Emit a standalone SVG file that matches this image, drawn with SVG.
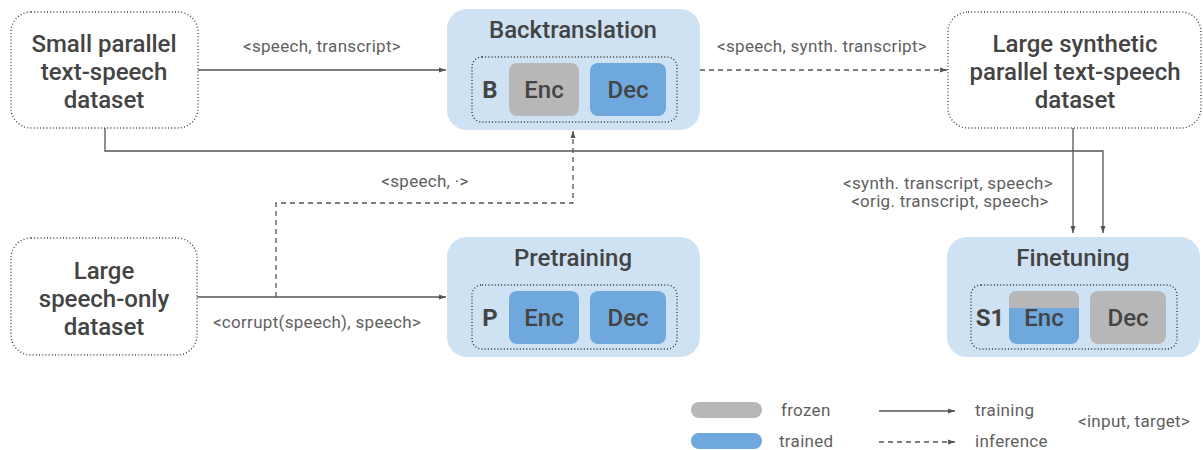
<svg xmlns="http://www.w3.org/2000/svg" width="1203" height="450" viewBox="0 0 1203 450">
<style>
.ds{fill:#fff;stroke:#444;stroke-width:1.4;stroke-dasharray:1 2.2}
.ct{fill:#cfe2f3}
.in{fill:none;stroke:#333;stroke-width:1.4;stroke-dasharray:1 2.2}
.fr{fill:#b7b7b7}
.tr{fill:#6fa8dc}
.big{font-family:Roboto,"Liberation Sans",sans-serif;font-size:24px;font-weight:500;fill:#444;text-anchor:middle}
.bold{font-family:Roboto,"Liberation Sans",sans-serif;font-size:24px;font-weight:bold;fill:#444;text-anchor:middle}
.lbl{font-family:Roboto,"Liberation Sans",sans-serif;font-size:17px;letter-spacing:0.3px;fill:#5f5f5f;text-anchor:middle}
.leg{font-family:Roboto,"Liberation Sans",sans-serif;font-size:17px;letter-spacing:0.3px;fill:#5f5f5f}
.ln{fill:none;stroke:#555;stroke-width:1.3}
.dash{stroke-dasharray:5 4}
</style>
<defs>
<marker id="ah" markerWidth="8" markerHeight="8" refX="7" refY="4" orient="auto" markerUnits="userSpaceOnUse">
<path d="M0,1.5 L7,4 L0,6.5 Z" fill="#555"/>
</marker>
</defs>

<g id="small-parallel">
<rect class="ds" x="11" y="12" width="187" height="116" rx="20"/>
<text class="big" x="104" y="52">Small parallel</text>
<text class="big" x="104" y="80">text-speech</text>
<text class="big" x="104" y="108">dataset</text>
</g>

<g id="large-speech">
<rect class="ds" x="11" y="238" width="186" height="117" rx="20"/>
<text class="big" x="104" y="279">Large</text>
<text class="big" x="104" y="307">speech-only</text>
<text class="big" x="104" y="335">dataset</text>
</g>

<g id="large-synthetic">
<rect class="ds" x="948" y="12" width="253" height="116" rx="20"/>
<text class="big" x="1075" y="52">Large synthetic</text>
<text class="big" x="1075" y="80">parallel text-speech</text>
<text class="big" x="1075" y="108">dataset</text>
</g>

<g id="backtranslation">
<rect class="ct" x="447" y="9" width="253" height="121" rx="20"/>
<text class="big" x="573" y="38">Backtranslation</text>
<rect class="in" x="472" y="57" width="205" height="65" rx="10"/>
<text class="bold" x="490" y="98">B</text>
<rect class="fr" x="509" y="63" width="70" height="53" rx="8"/>
<text class="big" x="544" y="98">Enc</text>
<rect class="tr" x="590" y="63" width="76" height="53" rx="8"/>
<text class="big" x="628" y="98">Dec</text>
</g>

<g id="pretraining">
<rect class="ct" x="447" y="237" width="253" height="120" rx="20"/>
<text class="big" x="573" y="266">Pretraining</text>
<rect class="in" x="472" y="285" width="205" height="64" rx="10"/>
<text class="bold" x="490" y="326">P</text>
<rect class="tr" x="509" y="291" width="70" height="53" rx="8"/>
<text class="big" x="544" y="326">Enc</text>
<rect class="tr" x="590" y="291" width="76" height="53" rx="8"/>
<text class="big" x="628" y="326">Dec</text>
</g>

<g id="finetuning">
<rect class="ct" x="947" y="237" width="253" height="120" rx="20"/>
<text class="big" x="1073" y="266">Finetuning</text>
<rect class="in" x="971" y="285" width="206" height="64" rx="10"/>
<text class="bold" x="990" y="326">S1</text>
<rect class="tr" x="1009" y="291" width="70" height="53" rx="8"/>
<path class="fr" d="M1009,308 V299 A8,8 0 0 1 1017,291 H1071 A8,8 0 0 1 1079,299 V308 Z"/>
<text class="big" x="1044" y="326">Enc</text>
<rect class="fr" x="1090" y="291" width="76" height="53" rx="8"/>
<text class="big" x="1128" y="326">Dec</text>
</g>

<g id="connectors">
<path class="ln" d="M198,70 H446" marker-end="url(#ah)"/>
<path class="ln dash" d="M700,70 H947" marker-end="url(#ah)"/>
<path class="ln" d="M105,128 V151 H1103 V233" marker-end="url(#ah)"/>
<path class="ln" d="M1073,128 V233" marker-end="url(#ah)"/>
<path class="ln" d="M197,297 H446" marker-end="url(#ah)"/>
<path class="ln dash" d="M276,297 V203 H573 V131" marker-end="url(#ah)"/>
<text class="lbl" x="322" y="52">&lt;speech, transcript&gt;</text>
<text class="lbl" x="822" y="52">&lt;speech, synth. transcript&gt;</text>
<text class="lbl" x="948" y="189">&lt;synth. transcript, speech&gt;</text>
<text class="lbl" x="950" y="207">&lt;orig. transcript, speech&gt;</text>
<text class="lbl" x="425" y="187">&lt;speech, ·&gt;</text>
<text class="lbl" x="317" y="328">&lt;corrupt(speech), speech&gt;</text>
</g>

<g id="legend">
<rect class="fr" x="691" y="402" width="71" height="16" rx="8"/>
<rect class="tr" x="691" y="433" width="71" height="16" rx="8"/>
<text class="leg" x="781" y="416">frozen</text>
<text class="leg" x="779" y="447">trained</text>
<path class="ln" d="M879,411 H955" marker-end="url(#ah)"/>
<path class="ln dash" d="M879,442 H955" marker-end="url(#ah)"/>
<text class="leg" x="975" y="416">training</text>
<text class="leg" x="975" y="447">inference</text>
<text class="leg" x="1078" y="427">&lt;input, target&gt;</text>
</g>
</svg>
